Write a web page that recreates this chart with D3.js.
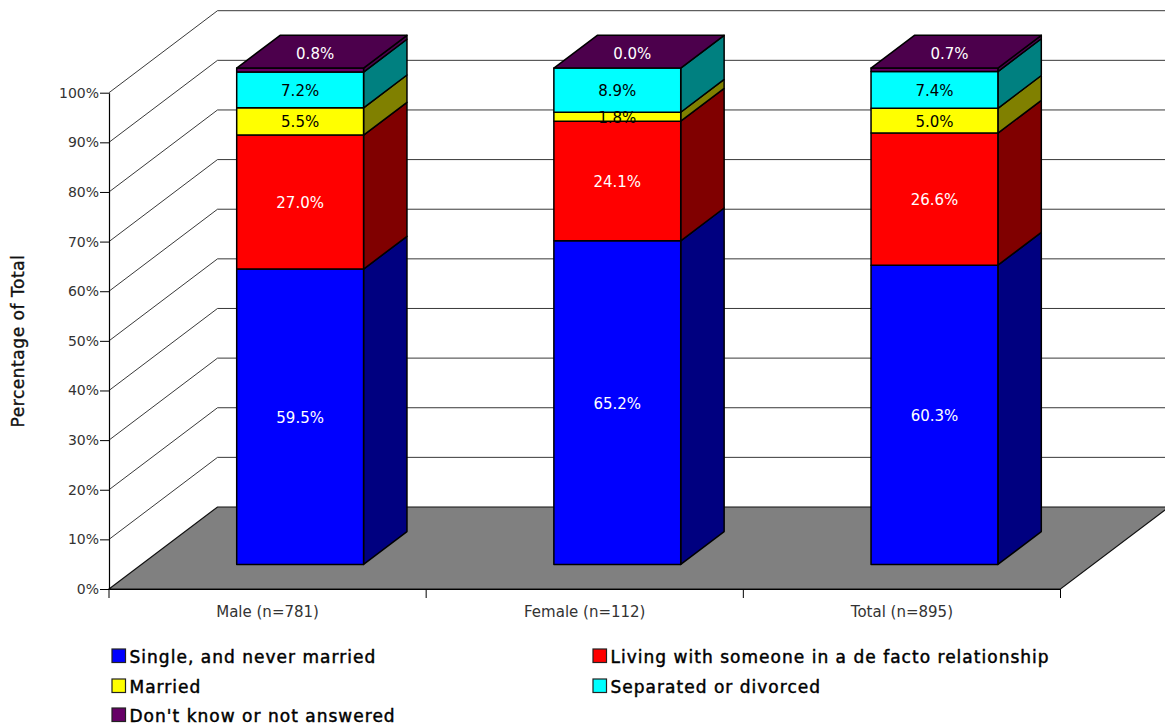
<!DOCTYPE html>
<html>
<head>
<meta charset="utf-8">
<title>Relationship status</title>
<script src="https://cdn.jsdelivr.net/npm/d3@7"></script>
<style>
  html, body { margin: 0; padding: 0; background: #fff; }
  svg { display: block; }
  text { font-family: "DejaVu Sans", sans-serif; }
</style>
</head>
<body>
<div id="chart"></div>
<script>
const categories = ['Male (n=781)', 'Female (n=112)', 'Total (n=895)'];
const seriesNames = ['Single, and never married', 'Living with someone in a de facto relationship',
  'Married', 'Separated or divorced', "Don't know or not answered"];
const single = [59.5, 65.2, 60.3];
const defacto = [27.0, 24.1, 26.6];
const married = [5.5, 1.8, 5.0];
const separated = [7.2, 8.9, 7.4];
const unknown = [0.8, 0.0, 0.7];
const percentTicks = [0, 10, 20, 30, 40, 50, 60, 70, 80, 90, 100];

const seriesValues = [single, defacto, married, separated, unknown];
const frontColors = ['#0000ff', '#ff0000', '#ffff00', '#00ffff', '#660066'];
const sideColors = ['#000080', '#800000', '#808000', '#008080', '#4c004c'];
const labelColors = ['#fff', '#fff', '#000', '#000', '#fff'];

const width = 1165, height = 724;
const depthX = 108.5, depthY = -82;

const x = d3.scaleBand().domain(categories).range([109, 1060.5]).paddingInner(0).paddingOuter(0);
const y = d3.scaleLinear().domain([0, 100]).range([589, 92.7]);

const svg = d3.select('#chart').append('svg')
  .attr('width', width)
  .attr('height', height);

// back wall grid: a diagonal on the side wall, then a horizontal along the back
const grid = svg.append('g').attr('fill', 'none');
percentTicks.slice(1).forEach(t => {
  grid.append('path')
    .attr('d', `M109,${y(t)}L${109 + depthX},${y(t) + depthY}L${width},${y(t) + depthY}`)
    .attr('stroke', '#222')
    .attr('stroke-width', 0.9);
});

// floor
const floor = [[109, y(0)], [109 + depthX, y(0) + depthY], [1060.5 + depthX, y(0) + depthY], [1060.5, y(0)]];
svg.append('path')
  .attr('d', d3.line()(floor) + 'Z')
  .attr('fill', '#808080')
  .attr('stroke', '#111')
  .attr('stroke-width', 1.2);

// axes
const axisLeft = svg.append('g')
  .attr('transform', 'translate(109,0)')
  .call(d3.axisLeft(y).tickValues(percentTicks).tickFormat(d => d + '%').tickSizeInner(9).tickSizeOuter(0).tickPadding(1));
axisLeft.selectAll('text').attr('font-size', 14).attr('font-family', '"DejaVu Sans", sans-serif').attr('fill', '#333');

const axisBottom = svg.append('g')
  .attr('transform', `translate(0,${y(0)})`)
  .call(d3.axisBottom(x).tickSize(0).tickPadding(17));
axisBottom.selectAll('text').attr('font-size', 15).attr('font-family', '"DejaVu Sans", sans-serif').attr('fill', '#333');
axisBottom.selectAll('.cat-tick')
  .data(d3.range(categories.length + 1))
  .enter().append('line')
  .attr('class', 'cat-tick')
  .attr('x1', i => 109 + i * x.bandwidth())
  .attr('x2', i => 109 + i * x.bandwidth())
  .attr('y1', 0)
  .attr('y2', 9)
  .attr('stroke', '#000');
svg.selectAll('.domain').attr('stroke', '#000').attr('stroke-width', 1.2);

// stacked 3D columns, seated 0.3 to 0.7 of the way into the floor depth
const barWidth = x.bandwidth() * 0.4;
const near = 0.3, far = 0.7;

categories.forEach((cat, c) => {
  const left = x(cat) + x.bandwidth() * 0.3 + depthX * near;
  const right = left + barWidth;
  const dyNear = depthY * near, dyFar = depthY * far;
  const farX = depthX * (far - near);
  const g = svg.append('g').attr('stroke', '#000').attr('stroke-width', 1.5).attr('stroke-linejoin', 'round');
  let base = 0;
  seriesValues.forEach((vals, s) => {
    const v = vals[c];
    if (v <= 0) return;
    const y0 = y(base) + dyNear, y1 = y(base + v) + dyNear;
    g.append('path')
      .attr('d', `M${right},${y0}L${right + farX},${y(base) + dyFar}L${right + farX},${y(base + v) + dyFar}L${right},${y1}Z`)
      .attr('fill', sideColors[s]);
    g.append('rect')
      .attr('x', left).attr('y', y1)
      .attr('width', barWidth).attr('height', y0 - y1)
      .attr('fill', frontColors[s]);
    base += v;
  });
  // top face takes the colour of the last series
  const topY = y(100) + dyNear;
  g.append('path')
    .attr('d', `M${left},${topY}L${left + farX},${y(100) + dyFar}L${right + farX},${y(100) + dyFar}L${right},${topY}Z`)
    .attr('fill', sideColors[4]);

  base = 0;
  seriesValues.forEach((vals, s) => {
    const v = vals[c];
    const mid = y(base + v / 2) + dyNear;
    const onTop = s === 4;
    svg.append('text')
      .attr('x', left + barWidth / 2 + (onTop ? 15 : 0))
      .attr('y', onTop ? topY - 15 : mid)
      .attr('dy', '0.4em')
      .attr('text-anchor', 'middle')
      .attr('font-size', 15)
      .attr('fill', labelColors[s])
      .text(v.toFixed(1) + '%');
    base += v;
  });
});

// y axis title
svg.append('text')
  .attr('transform', 'translate(24,341) rotate(-90)')
  .attr('text-anchor', 'middle')
  .attr('font-size', 17)
  .attr('letter-spacing', 0.55)
  .attr('fill', '#111')
  .attr('stroke', '#111')
  .attr('stroke-width', 0.35)
  .text('Percentage of Total');

// legend, two columns filled row by row
const legendX = [112, 593], legendY = [655.5, 685.5, 714.5];
seriesNames.forEach((name, i) => {
  const lx = legendX[i % 2], ly = legendY[Math.floor(i / 2)];
  svg.append('rect')
    .attr('x', lx).attr('y', ly - 6.5)
    .attr('width', 13.5).attr('height', 13.5)
    .attr('fill', frontColors[i])
    .attr('stroke', '#222')
    .attr('stroke-width', 1.2);
  svg.append('text')
    .attr('x', lx + 17.5).attr('y', ly + 7)
    .attr('font-size', 17)
    .attr('letter-spacing', 1.02)
    .attr('fill', '#000')
    .attr('stroke', '#000')
    .attr('stroke-width', 0.45)
    .text(name);
});
</script>
</body>
</html>
